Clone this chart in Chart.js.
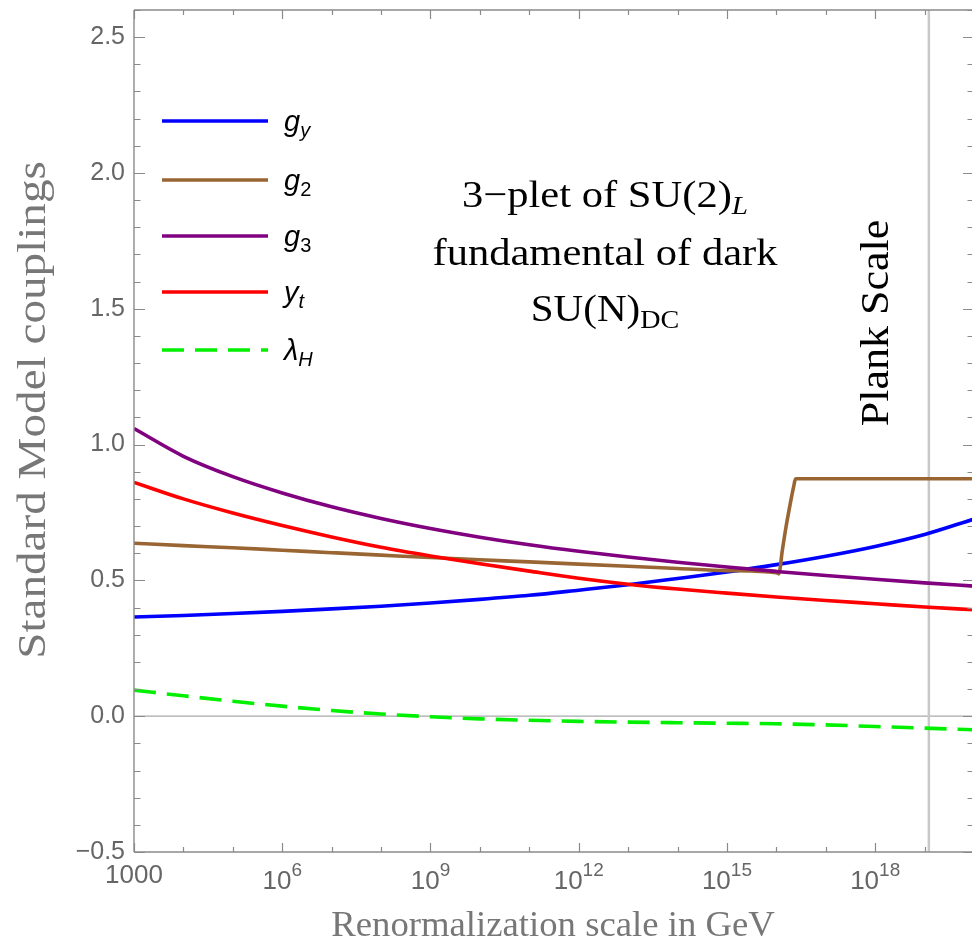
<!DOCTYPE html>
<html>
<head>
<meta charset="utf-8">
<title>Standard Model couplings running</title>
<style>
  html, body { margin: 0; padding: 0; background: #ffffff; overflow: hidden; }
  canvas { display: block; }
</style>
<script src="https://cdn.jsdelivr.net/npm/chart.js@4.4.1/dist/chart.umd.min.js"></script>
</head>
<body>
<canvas id="couplings" width="980" height="944"></canvas>
<script>
// Renormalization scale (GeV), one point per decade
const scaleGeV = [1e3, 1e4, 1e5, 1e6, 1e7, 1e8, 1e9, 1e10, 1e11, 1e12, 1e13, 1e14, 1e15, 1e16, 1e17, 1e18, 1e19, 1e20];

// Hypercharge coupling
const gY = [0.365, 0.371, 0.378, 0.386, 0.395, 0.405, 0.417, 0.430, 0.445, 0.464, 0.484, 0.507, 0.531, 0.558, 0.589, 0.625, 0.669, 0.726];

// SU(2)_L coupling: the 3-plet enters near 10^16 GeV and g2 climbs to its plateau
const g2Scale = [1e3, 1e4, 1e5, 1e6, 1e7, 1e8, 1e9, 1e10, 1e11, 1e12, 1e13, 1e14, 1e15, 1e16, 1.12e16, 1.32e16, 1.58e16, 1.9e16, 2.24e16, 2.45e16, 1e17, 1e18, 1e19, 1e20];
const g2 = [0.637, 0.628, 0.620, 0.611, 0.602, 0.593, 0.584, 0.576, 0.568, 0.560, 0.552, 0.544, 0.536, 0.528, 0.524, 0.610, 0.700, 0.780, 0.845, 0.874, 0.874, 0.874, 0.874, 0.874];

// SU(3) coupling
const g3 = [1.059, 0.957, 0.882, 0.822, 0.771, 0.728, 0.691, 0.659, 0.631, 0.607, 0.586, 0.567, 0.549, 0.533, 0.518, 0.504, 0.491, 0.479];

// Top Yukawa
const yt = [0.861, 0.800, 0.748, 0.702, 0.660, 0.622, 0.590, 0.561, 0.534, 0.508, 0.486, 0.468, 0.453, 0.439, 0.426, 0.414, 0.402, 0.392];

// Higgs quartic
const lambdaH = [0.096, 0.075, 0.055, 0.037, 0.021, 0.008, -0.002, -0.010, -0.015, -0.019, -0.022, -0.024, -0.026, -0.028, -0.032, -0.038, -0.044, -0.050];

// Planck mass in GeV
const planckScale = 1.22e19;

// Axis ticks
const xTickLabels = ['1000', '10^6', '10^9', '10^12', '10^15', '10^18'];
const xTickValues = [1e3, 1e6, 1e9, 1e12, 1e15, 1e18];
const yMajorTicks = [-0.5, 0.0, 0.5, 1.0, 1.5, 2.0, 2.5];

const series = [
  { label: 'g', sub: 'y', subItalic: true,  color: '#0000ff', x: scaleGeV, y: gY, dash: [] },
  { label: 'g', sub: '2', subItalic: false, color: '#996633', x: g2Scale,  y: g2, dash: [] },
  { label: 'g', sub: '3', subItalic: false, color: '#800080', x: scaleGeV, y: g3, dash: [] },
  { label: 'y', sub: 't', subItalic: true,  color: '#ff0000', x: scaleGeV, y: yt, dash: [] },
  { label: 'λ', sub: 'H', subItalic: true,  color: '#00f000', x: scaleGeV, y: lambdaH, dash: [22, 11] }
];

const toPoints = (xs, ys) => xs.map((x, i) => ({ x: x, y: ys[i] }));

const datasets = [
  // zero reference line
  { data: [{ x: 1e3, y: 0 }, { x: 1e20, y: 0 }], borderColor: '#a8a8a8', borderWidth: 1.3, order: 10 },
  // Planck scale marker
  { data: [{ x: planckScale, y: -0.5 }, { x: planckScale, y: 2.6 }], borderColor: '#c8c8c8', borderWidth: 2.5, order: 9 }
].concat(series.map((s, i) => ({
  label: s.label + s.sub,
  data: toPoints(s.x, s.y),
  borderColor: s.color,
  borderWidth: 3.6,
  borderDash: s.dash,
  cubicInterpolationMode: 'monotone',
  order: 5 - i
})));

const SERIF = '"Liberation Serif", "Times New Roman", serif';
const SANS = '"Liberation Sans", Arial, sans-serif';

// Draw a sequence of text runs (base text, sub/superscripts) starting at x, baseline y
function drawRuns(ctx, runs, x, y, align, stretch) {
  stretch = stretch || 1;
  let total = 0;
  runs.forEach(r => { ctx.font = r.font; total += ctx.measureText(r.t).width; });
  let start = align === 'center' ? -total / 2 : (align === 'right' ? -total : 0);
  ctx.save();
  ctx.translate(x, y);
  ctx.scale(stretch, 1);
  ctx.textAlign = 'left';
  ctx.textBaseline = 'alphabetic';
  let cx = start;
  runs.forEach(r => {
    ctx.font = r.font;
    ctx.fillStyle = r.color;
    ctx.fillText(r.t, cx, r.dy || 0);
    cx += ctx.measureText(r.t).width;
  });
  ctx.restore();
}

const framePlugin = {
  id: 'frameAndText',
  afterDraw(chart) {
    const ctx = chart.ctx;
    const xs = chart.scales.x, ys = chart.scales.y;
    const a = chart.chartArea;
    ctx.save();
    // frame
    ctx.strokeStyle = '#8a8a8a';
    ctx.lineWidth = 1.4;
    ctx.beginPath();
    ctx.moveTo(a.left, a.top); ctx.lineTo(a.right, a.top);
    ctx.moveTo(a.left, a.top); ctx.lineTo(a.left, a.bottom);
    ctx.moveTo(a.left, a.bottom); ctx.lineTo(a.right, a.bottom);
    ctx.moveTo(a.right, a.top); ctx.lineTo(a.right, a.bottom);
    ctx.stroke();

    // inward ticks on the y axes (minor every 0.1)
    ctx.lineWidth = 1.2;
    ctx.beginPath();
    for (let k = -5; k <= 26; k++) {
      const v = k / 10;
      const py = Math.round(ys.getPixelForValue(v)) + 0.5;
      const major = k % 5 === 0;
      const len = major ? 11 : 6.5;
      ctx.moveTo(a.left, py); ctx.lineTo(a.left + len, py);
      ctx.moveTo(a.right, py); ctx.lineTo(a.right - len, py);
    }
    // inward ticks on the x axes (one per decade)
    for (let e = 3; e <= 20; e++) {
      const px = Math.round(xs.getPixelForValue(Math.pow(10, e))) + 0.5;
      const major = e % 3 === 0;
      const len = major ? 9 : 5;
      ctx.moveTo(px, a.bottom); ctx.lineTo(px, a.bottom - len);
      ctx.moveTo(px, a.top); ctx.lineTo(px, a.top + len);
    }
    ctx.stroke();

    // x tick labels with raised exponents
    xTickLabels.forEach((lab, i) => {
      const px = xs.getPixelForValue(xTickValues[i]);
      const parts = lab.split('^');
      const runs = [{ t: parts[0], font: '26px ' + SANS, color: '#666666', dy: 0 }];
      if (parts[1]) {
        runs[0].dy = 6;
        runs.push({ t: parts[1], font: '19px ' + SANS, color: '#666666', dy: -7 });
      }
      drawRuns(ctx, runs, px, a.bottom + 31, 'center');
    });

    // axis titles
    drawRuns(ctx, [{ t: 'Renormalization scale in GeV', font: '36px ' + SERIF, color: '#777777' }],
      (a.left + 972) / 2, 936, 'center', 1.02);
    ctx.save();
    ctx.translate(45, 410);
    ctx.rotate(-Math.PI / 2);
    drawRuns(ctx, [{ t: 'Standard Model couplings', font: '41px ' + SERIF, color: '#777777' }], 0, 0, 'center', 1.15);
    ctx.restore();

    // legend
    const legendY = [121, 180, 236, 292, 350];
    series.forEach((s, i) => {
      const y = legendY[i];
      ctx.strokeStyle = s.color;
      ctx.lineWidth = 3.6;
      ctx.setLineDash(s.dash);
      ctx.beginPath();
      ctx.moveTo(162, y); ctx.lineTo(268, y);
      ctx.stroke();
      ctx.setLineDash([]);
      drawRuns(ctx, [
        { t: s.label, font: 'italic 29px ' + SANS, color: '#000000', dy: 0 },
        { t: s.sub, font: (s.subItalic ? 'italic ' : '') + '20px ' + SANS, color: '#000000', dy: 6 }
      ], 284, y + 10, 'left');
    });

    // model annotation
    const cx = 605;
    drawRuns(ctx, [
      { t: '3−plet of SU(2)', font: '38px ' + SERIF, color: '#000000' },
      { t: 'L', font: 'italic 26px ' + SERIF, color: '#000000', dy: 7 }
    ], cx, 207, 'center', 1.12);
    drawRuns(ctx, [{ t: 'fundamental of dark', font: '38px ' + SERIF, color: '#000000' }], cx, 265, 'center', 1.12);
    drawRuns(ctx, [
      { t: 'SU(N)', font: '38px ' + SERIF, color: '#000000' },
      { t: 'DC', font: '26px ' + SERIF, color: '#000000', dy: 7 }
    ], cx, 321, 'center', 1.08);

    // Planck scale label
    ctx.save();
    ctx.translate(888, 323);
    ctx.rotate(-Math.PI / 2);
    drawRuns(ctx, [{ t: 'Plank Scale', font: '40px ' + SERIF, color: '#000000' }], 0, 0, 'center', 1.1);
    ctx.restore();

    ctx.restore();
  }
};

new Chart(document.getElementById('couplings'), {
  type: 'line',
  data: { datasets: datasets },
  options: {
    responsive: false,
    animation: false,
    devicePixelRatio: 1,
    layout: { padding: { top: 10, right: 6, left: 0, bottom: 0 } },
    elements: { point: { radius: 0, hoverRadius: 0 }, line: { fill: false } },
    plugins: { legend: { display: false }, tooltip: { enabled: false } },
    events: [],
    scales: {
      x: {
        type: 'logarithmic',
        min: 1e3,
        max: 1e20,
        grid: { display: false, drawTicks: false },
        border: { display: false },
        ticks: { display: false },
        afterFit(scale) { scale.height = 92; scale.paddingLeft = 0; scale.paddingRight = 0; }
      },
      y: {
        type: 'linear',
        min: -0.5,
        max: 2.6,
        grid: { display: false, drawTicks: false },
        border: { display: false },
        afterBuildTicks(scale) { scale.ticks = yMajorTicks.map(v => ({ value: v })); },
        ticks: {
          padding: 9,
          color: '#666666',
          font: { family: 'Liberation Sans', size: 25 },
          callback: v => (v < 0 ? '\u2212' : '') + Math.abs(v).toFixed(1)
        },
        afterFit(scale) { scale.width = 134; scale.paddingTop = 0; scale.paddingBottom = 0; }
      }
    }
  },
  plugins: [framePlugin]
});
</script>
</body>
</html>
